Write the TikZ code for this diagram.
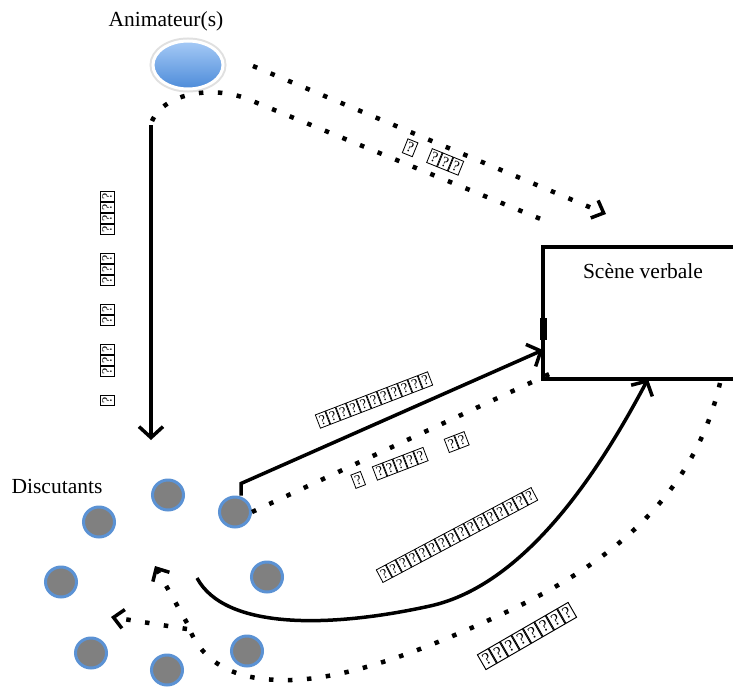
\documentclass[tikz,border=0pt]{standalone}
\usepackage{fontspec}
\setmainfont{Liberation Serif}
\usepackage{tikz}
\usetikzlibrary{positioning,arrows.meta,shapes.geometric}
\definecolor{DiscGray}{HTML}{808080}
\definecolor{DiscBlue}{HTML}{5B92D4}
\definecolor{AnimTop}{HTML}{A6CAF6}
\definecolor{AnimBot}{HTML}{4C8BD9}
\setlength{\fboxsep}{0.7pt}
\setlength{\fboxrule}{0.8pt}
\newcommand{\qm}{\fbox{\makebox[8pt]{\rule[-1.5pt]{0pt}{12pt}?}}}

\begin{document}
\begin{tikzpicture}[x=1pt, y=-1pt,
  disc/.style={ellipse, draw=DiscBlue, line width=3pt, fill=DiscGray, minimum width=31pt, minimum height=30pt, inner sep=0pt},
  title/.style={font=\fontsize{21.5}{26}\selectfont, anchor=base},
  tofu/.style={font=\fontsize{14}{14}\selectfont, inner sep=0pt},
  solidarrow/.style={line width=3.5pt, -{Straight Barb[length=11pt,width=24pt,line width=3.5pt]}},
  dots/.style={line width=4.5pt, dash pattern=on 4.5pt off 14.5pt},
  dotarrow/.style={dots, -{Straight Barb[length=10pt,width=19pt,line width=3.5pt]}}]
\path[use as bounding box, fill=white] (0,0) rectangle (733,688);
\clip (0,0) rectangle (733,688);

\node[ellipse, minimum width=70pt, minimum height=48pt, draw=white, line width=3pt, top color=AnimTop, bottom color=AnimBot, preaction={draw=black!12, line width=7pt}] (anim) at (188,65) {};
\node[title] (animlbl) at (166,27) {Animateur(s)};

\node[draw, line width=4.5pt, minimum width=200pt, minimum height=132pt, anchor=north west, inner sep=0pt, outer sep=0pt] (scene) at (543,247) {};
\node[title] (scenelbl) at (643,278) {Scène verbale};
\draw[line width=7pt] ([yshift=-5pt]scene.west) -- ([yshift=-27pt]scene.west);

\node[disc] (d1) at (168,495) {};
\node[disc] (d2) at (99,522) {};
\node[disc] (d3) at (235,512) {};
\node[disc] (d4) at (61,582) {};
\node[disc] (d5) at (267,577) {};
\node[disc] (d6) at (91,653) {};
\node[disc] (d7) at (247,651) {};
\node[disc] (d8) at (167,670) {};
\node[title] (disclbl) at (57,493) {Discutants};

\coordinate (downtop) at (151,125);
\coordinate (downend) at (151,440);
\coordinate (dotstart) at (253,66);
\coordinate (dottip) at (606,214);
\coordinate (hookstart) at (152,121);
\coordinate (hookend) at (548,222);
\coordinate (curvestart) at (197,578);
\coordinate (split) at (187,623);
\coordinate (tipup) at (155,566);
\coordinate (tipleft) at (111,617);

\draw[solidarrow] (downtop) -- (downend);
\draw[dotarrow] (dotstart) -- (dottip);
\draw[dots] (hookstart) .. controls (165,92) and (215,85) .. (250,100) -- (hookend);
\draw[solidarrow] ([xshift=6pt]d3.north) -- ++(0,-12) -- ([yshift=29pt]scene.south west);
\draw[dots] (d3.east) -- ([xshift=15pt,yshift=9pt]scene.south west);
\draw[solidarrow] (curvestart) .. controls (225,630) and (330,628) .. (430,606) .. controls (530,584) and (605,460) .. ([xshift=5pt]scene.south);
\draw[dots] ([xshift=77pt,yshift=-4pt]scene.south) .. controls (695,490) and (620,560) .. (500,615) .. controls (420,652) and (340,682) .. (280,680) .. controls (230,679) and (200,660) .. (split);
\draw[dotarrow] (split) -- (tipup);
\draw[dotarrow] ([yshift=-6pt]split) -- (tipleft);

\node[tofu, rotate=-22, scale=1.05] (lbla) at (433,157) {\qm\hspace{14pt}\qm\qm\qm};
\node[tofu, rotate=90] (lblb) at (107,298) {\qm\hspace{18pt}\qm\qm\qm\hspace{18pt}\qm\qm\hspace{18pt}\qm\qm\qm\hspace{18pt}\qm\qm\qm\qm};
\node[tofu, rotate=21] (lblc) at (374,400) {\qm\qm\qm\qm\qm\qm\qm\qm\qm\qm\qm};
\node[tofu, rotate=21] (lbld) at (410,460) {\qm\hspace{12pt}\qm\qm\qm\qm\qm\hspace{22pt}\qm\qm};
\node[tofu, rotate=28] (lble) at (457,535) {\qm\qm\qm\qm\qm\qm\qm\qm\qm\qm\qm\qm\qm\qm\qm\qm};
\node[tofu, rotate=30, scale=1.2] (lblf) at (527,636) {\qm\qm\qm\qm\qm\qm\qm\qm};
\end{tikzpicture}
\end{document}
